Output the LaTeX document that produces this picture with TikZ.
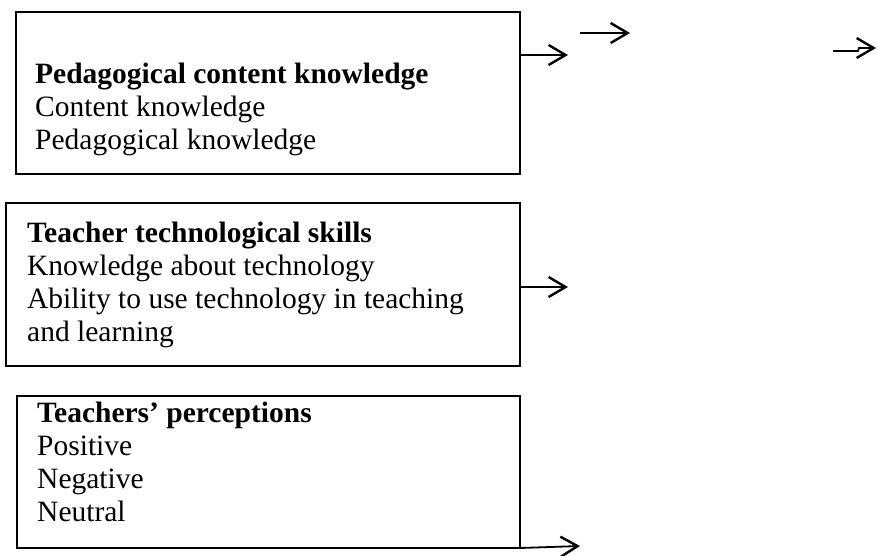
\documentclass[tikz,border=0pt]{standalone}
\usepackage{fontspec}
\setmainfont{Liberation Serif}
\usetikzlibrary{arrows.meta}

\tikzset{
  box/.style={draw, line width=1.8pt, anchor=north west, inner sep=0pt, outer sep=0pt},
  txt/.style={anchor=north west, align=left, inner sep=0pt, font=\fontsize{29.5}{33}\selectfont},
  link/.style={line width=1.8pt, -{Straight Barb[length=17pt,width=20pt,line width=2.4pt]}},
}

\begin{document}
\begin{tikzpicture}[x=1pt, y=-1pt]
    \useasboundingbox (0,0) rectangle (877,555);

    % the three boxes
    \node[box, minimum width=504pt, minimum height=162pt] (pck) at (16,12) {};
    \node[box, minimum width=514pt, minimum height=163pt] (tts) at (6,203) {};
    \node[box, minimum width=503pt, minimum height=152pt] (tp) at (17,396) {};

    % their contents
    \node[txt] (pcktext) at (35,63) {\textbf{Pedagogical content knowledge}\\Content knowledge\\Pedagogical knowledge};
    \node[txt] (ttstext) at (27,222) {\textbf{Teacher technological skills}\\Knowledge about technology\\Ability to use technology in teaching\\and learning};
    \node[txt] (tptext) at (37,402) {\textbf{Teachers’ perceptions}\\Positive\\Negative\\Neutral};

    % free ends of the arrows
    \coordinate (a1) at (568,55);
    \coordinate (b0) at (580,33);
    \coordinate (b1) at (630,33);
    \coordinate (c0) at (833,51);
    \coordinate (c1) at (876,48);
    \coordinate (d1) at (568,287);
    \coordinate (e1) at (580,546);

    \draw[link] (pck.east |- a1) -- (a1);
    \draw[link] (b0) -- (b1);
    \draw[link] (c0) -- ++(25,0) -- ++(1,-3) -- (c1);
    \draw[link] (tts.east |- d1) -- (d1);
    \draw[link] (tp.south east) -- (e1);
\end{tikzpicture}
\end{document}
